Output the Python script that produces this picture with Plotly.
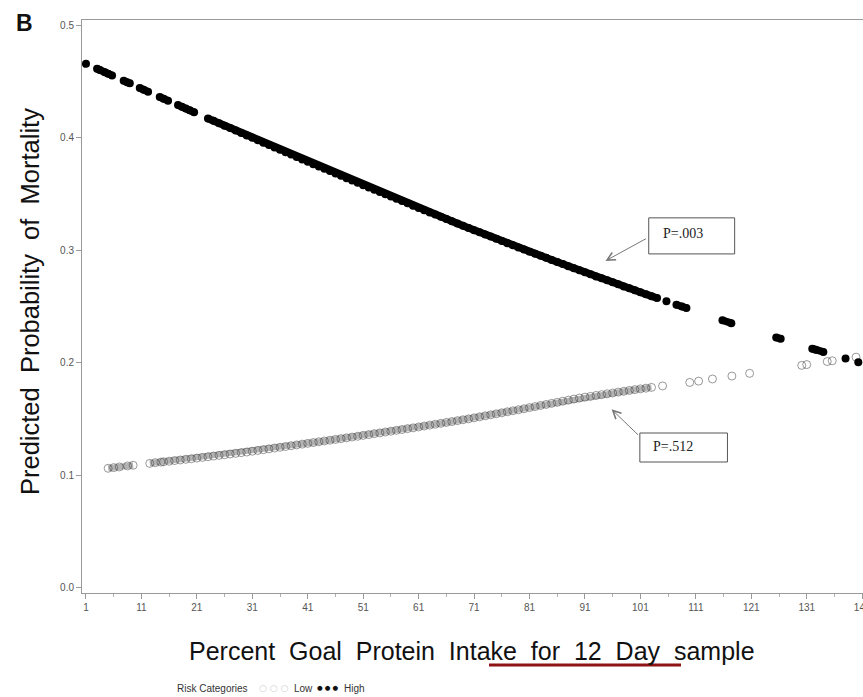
import plotly.graph_objects as go

# Figure geometry (pixels)
W, H = 863, 697
ML, MR, MT, MB = 82, 0, 20, 104

# ---- data -------------------------------------------------------------
# High-risk category: predicted probability of mortality by % goal protein intake.
# None separates runs of observations that are not contiguous.
high_x = [1, None,
          3, 3.5, 4.4, 5, 5.7, None,
          7.8, 8.4, 8.9, None,
          10.7, 11.4, 12.2, None,
          14.3, 15, 15.8, None,
          17.6, 18.3, 19, 19.7, 20.5, None,
          23, 24, 25, 26, 27, 28, 29, 30, 31, 32, 33, 34, 35, 36, 37, 38, 39, 40,
          41, 42, 43, 44, 45, 46, 47, 48, 49, 50, 51, 52, 53, 54, 55, 56, 57, 58,
          59, 60, 61, 62, 63, 64, 65, 66, 67, 68, 69, 70, 71, 72, 73, 74, 75, 76,
          77, 78, 79, 80, 81, 82, 83, 84, 85, 86, 87, 88, 89, 90, 91, 92, 93, 94,
          95, 96, 97, 98, 99, 100, 101, 102, 103, 104, None,
          105.7, None,
          107.5, 108.5, 109.3, None,
          115.8, 117.4, None,
          125.5, 126.3, None,
          132.0, 132.6, 134.0, None,
          138.0, None,
          140.3]
high_y = [0.4660, None,
          0.4616, 0.4605, 0.4585, 0.4572, 0.4557, None,
          0.4510, 0.4497, 0.4486, None,
          0.4445, 0.4429, 0.4412, None,
          0.4365, 0.4350, 0.4332, None,
          0.4293, 0.4277, 0.4262, 0.4247, 0.4229, None,
          0.4174, 0.4153, 0.4131, 0.4109, 0.4088, 0.4066, 0.4044, 0.4023, 0.4001,
          0.3980, 0.3958, 0.3937, 0.3916, 0.3895, 0.3873, 0.3852, 0.3831, 0.3809,
          0.3788, 0.3767, 0.3746, 0.3726, 0.3705, 0.3684, 0.3663, 0.3642, 0.3622,
          0.3601, 0.3580, 0.3560, 0.3539, 0.3519, 0.3499, 0.3479, 0.3458, 0.3438,
          0.3418, 0.3397, 0.3377, 0.3357, 0.3337, 0.3318, 0.3298, 0.3278, 0.3258,
          0.3238, 0.3219, 0.3199, 0.3179, 0.3160, 0.3141, 0.3122, 0.3103, 0.3084,
          0.3064, 0.3045, 0.3026, 0.3007, 0.2988, 0.2970, 0.2951, 0.2933, 0.2914,
          0.2896, 0.2878, 0.2859, 0.2841, 0.2822, 0.2804, 0.2786, 0.2768, 0.2751,
          0.2733, 0.2715, 0.2697, 0.2679, 0.2662, 0.2644, 0.2626, 0.2609, 0.2592,
          0.2575, None,
          0.2546, None,
          0.2516, 0.2499, 0.2486, None,
          0.2378, 0.2352, None,
          0.2225, 0.2212, None,
          0.2125, 0.2116, 0.2096, None,
          0.2037, None,
          0.2003]

# Low-risk category
low_x = [5, 6, 7, 8.5, 9.5, None,
         12.5, 13.5, 14.5,
         15, 16, 17, 18, 19, 20, 21, 22, 23, 24, 25, 26, 27, 28, 29, 30, 31, 32,
         33, 34, 35, 36, 37, 38, 39, 40, 41, 42, 43, 44, 45, 46, 47, 48, 49, 50,
         51, 52, 53, 54, 55, 56, 57, 58, 59, 60, 61, 62, 63, 64, 65, 66, 67, 68,
         69, 70, 71, 72, 73, 74, 75, 76, 77, 78, 79, 80, 81, 82, 83, 84, 85, 86,
         87, 88, 89, 90, 91, 92, 93, 94, 95, 96, 97, 98, 99, 100, 101, 102, 103,
         None, 105, None, 109.9, None, 111.5, None, 114, None, 117.5, None, 120.7,
         None, 130.1, None, 131, None, 134.7, None, 135.6, None, 139.9]
low_y = [0.1060, 0.1066, 0.1072, 0.1081, 0.1087, None,
         0.1104, 0.1110, 0.1115,
         0.1118, 0.1123, 0.1129, 0.1134, 0.1140, 0.1145, 0.1151, 0.1157, 0.1163,
         0.1169, 0.1175, 0.1181, 0.1187, 0.1193, 0.1199, 0.1205, 0.1212, 0.1219,
         0.1226, 0.1233, 0.1240, 0.1247, 0.1254, 0.1261, 0.1268, 0.1275, 0.1282,
         0.1289, 0.1296, 0.1303, 0.1310, 0.1317, 0.1324, 0.1331, 0.1338, 0.1345,
         0.1353, 0.1360, 0.1368, 0.1375, 0.1383, 0.1390, 0.1398, 0.1405, 0.1413,
         0.1420, 0.1428, 0.1436, 0.1444, 0.1452, 0.1460, 0.1468, 0.1476, 0.1484,
         0.1492, 0.1500, 0.1509, 0.1518, 0.1527, 0.1536, 0.1545, 0.1554, 0.1563,
         0.1572, 0.1581, 0.1590, 0.1600, 0.1609, 0.1619, 0.1628, 0.1638, 0.1647,
         0.1657, 0.1666, 0.1676, 0.1685, 0.1693, 0.1700, 0.1708, 0.1715, 0.1723,
         0.1730, 0.1738, 0.1745, 0.1753, 0.1760, 0.1767, 0.1773, 0.1780,
         None, 0.1793, None, 0.1824, None, 0.1836, None, 0.1855, None, 0.1881, None,
         0.1905, None, 0.1976, None, 0.1983, None, 0.2010, None, 0.2017, None, 0.2049]

x_ticks = [1, 11, 21, 31, 41, 51, 61, 71, 81, 91, 101, 111, 121, 131, 141]
x_minor = [6, 16, 26, 36, 46, 56, 66, 76, 86, 96, 106, 116, 126, 136]
y_ticks = [0.0, 0.1, 0.2, 0.3, 0.4, 0.5]

p_labels = ["P=.003", "P=.512"]

# ---- helpers: pixel -> paper coordinates ------------------------------
PW, PH = W - ML - MR, H - MT - MB


def px(xp):
    return (xp - ML) / PW


def py(yp):
    return (H - MB - yp) / PH


FONT = "Liberation Sans, Arial, sans-serif"

fig = go.Figure()

fig.add_trace(go.Scatter(
    x=low_x, y=low_y, mode="lines+markers", name="Low", showlegend=False,
    connectgaps=False,
    line=dict(color="#b4b4b4", width=6),
    marker=dict(symbol="circle-open", size=8, color="rgba(70,70,70,0.55)",
                line=dict(width=1)),
))
fig.add_trace(go.Scatter(
    x=high_x, y=high_y, mode="lines+markers", name="High", showlegend=False,
    connectgaps=False,
    line=dict(color="#000000", width=7.5),
    marker=dict(symbol="circle", size=8, color="#000000"),
))

# P-value boxes with arrows
boxes = [
    # (label, box x0, x1, y0, y1 in data units, text x, text y, arrow tip, tail offset px)
    (p_labels[0], 102.5, 118.0, 0.2968, 0.3289, 104.7, 0.3146, (94.7, 0.2906), (42, -23)),
    (p_labels[1], 100.9, 116.7, 0.1116, 0.1374, 102.9, 0.1250, (95.8, 0.1585), (28, 27)),
]
for lab, x0, x1, y0, y1, tx, ty, tip, off in boxes:
    fig.add_shape(type="rect", xref="x", yref="y", x0=x0, x1=x1, y0=y0, y1=y1,
                  line=dict(color="#555555", width=1), fillcolor="white")
    fig.add_annotation(x=tx, y=ty, xref="x", yref="y", text=lab, showarrow=False,
                       xanchor="left", yanchor="middle",
                       font=dict(family="Liberation Serif, Times New Roman, serif",
                                 size=14, color="#222222"))
    fig.add_annotation(x=tip[0], y=tip[1], xref="x", yref="y", text="",
                       showarrow=True, ax=off[0], ay=off[1],
                       arrowhead=5, arrowsize=1.6, arrowwidth=1,
                       arrowcolor="#777777")

# Panel letter
fig.add_annotation(x=px(25), y=py(23), xref="paper", yref="paper", text="<b>B</b>",
                   showarrow=False, xanchor="center", yanchor="middle",
                   font=dict(family=FONT, size=23, color="#111111"))

# Axis titles
fig.add_annotation(x=px(472), y=py(651), xref="paper", yref="paper",
                   text="Percent  Goal  Protein  Intake  for  12  Day  sample",
                   showarrow=False, xanchor="center", yanchor="middle",
                   font=dict(family=FONT, size=25, color="#111111"))
fig.add_annotation(x=px(30), y=py(302), xref="paper", yref="paper",
                   text="Predicted  Probability  of  Mortality", textangle=-90,
                   showarrow=False, xanchor="center", yanchor="middle",
                   font=dict(family=FONT, size=25.5, color="#111111"))

# Red underline beneath part of the x-axis title
fig.add_shape(type="line", xref="paper", yref="paper",
              x0=px(489), x1=px(681), y0=py(665), y1=py(665),
              line=dict(color="#8e1414", width=3))

# Risk category key
key_font = dict(family=FONT, size=10, color="#333333")
fig.add_annotation(x=px(175), y=py(688), xref="paper", yref="paper",
                   text="Risk Categories", showarrow=False, xanchor="left",
                   yanchor="middle", font=key_font)
fig.add_annotation(x=px(257), y=py(688), xref="paper", yref="paper",
                   text="○ ○ ○", showarrow=False, xanchor="left", yanchor="middle",
                   font=dict(family="DejaVu Sans", size=9, color="#cfcfcf"))
fig.add_annotation(x=px(292), y=py(688), xref="paper", yref="paper",
                   text="Low", showarrow=False, xanchor="left", yanchor="middle",
                   font=key_font)
fig.add_annotation(x=px(315), y=py(688), xref="paper", yref="paper",
                   text="● ● ●", showarrow=False, xanchor="left", yanchor="middle",
                   font=dict(family="DejaVu Sans", size=6.5, color="#111111"))
fig.add_annotation(x=px(342), y=py(688), xref="paper", yref="paper",
                   text="High", showarrow=False, xanchor="left", yanchor="middle",
                   font=key_font)

tick_font = dict(family=FONT, size=10, color="#555555")
fig.update_layout(
    width=W, height=H,
    margin=dict(l=ML, r=MR, t=MT, b=MB, pad=0, autoexpand=False),
    paper_bgcolor="white", plot_bgcolor="white",
    showlegend=False,
    xaxis=dict(range=[0.28, 141.15], tickvals=x_ticks,
               ticktext=[str(v) for v in x_ticks], ticklabeloverflow="allow",
               automargin=False,
               showgrid=False, zeroline=False, showline=True, linecolor="#9a9a9a",
               linewidth=1, mirror=True, ticks="outside", ticklen=5,
               tickcolor="#9a9a9a", tickfont=tick_font,
               minor=dict(tickvals=x_minor, ticks="outside",
                          ticklen=3, tickcolor="#b0b0b0", showgrid=False)),
    yaxis=dict(range=[-0.005, 0.505], tickvals=y_ticks, tickformat=".1f",
               automargin=False,
               showgrid=False, zeroline=False, showline=True, linecolor="#9a9a9a",
               linewidth=1, ticks="outside", ticklen=5, tickcolor="#9a9a9a",
               tickfont=tick_font),
)

fig.write_html("out.html")
